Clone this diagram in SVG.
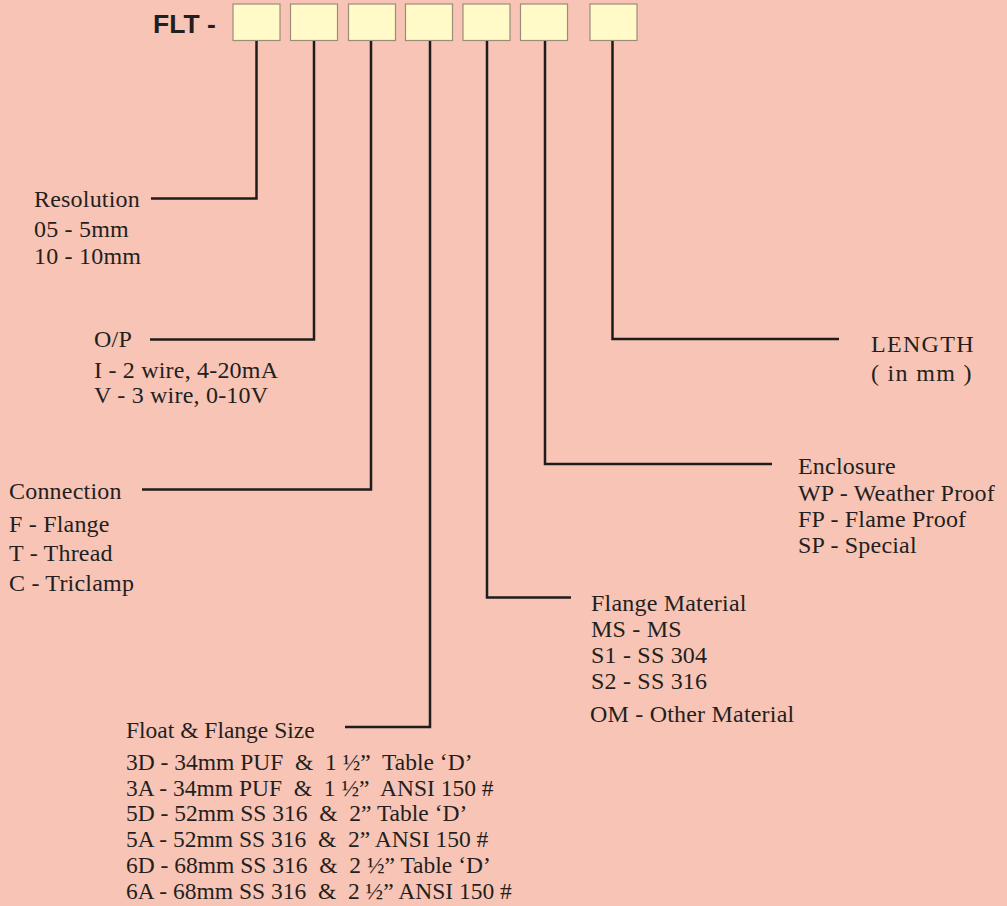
<svg xmlns="http://www.w3.org/2000/svg" width="1007" height="906" viewBox="0 0 1007 906">
<style>
.bg{fill:#F8C4B6}
.box{fill:#FFFAC8;stroke:#9C8C7A;stroke-width:1.2}
.ln{fill:none;stroke:#1F1C1C;stroke-width:2.5;stroke-linejoin:miter}
.t{font-family:"Liberation Serif","Times New Roman",serif;font-size:24px;letter-spacing:0.2px;fill:#231F20;white-space:pre}
.f{font-size:23.5px;letter-spacing:0}
.w{letter-spacing:1.3px}
.h{font-family:"Liberation Sans",Arial,sans-serif;font-size:26.5px;font-weight:bold;fill:#231F20}
</style>
<rect class="bg" x="0" y="0" width="1007" height="906"/>
<g id="header">
<text class="h" x="153" y="32.5">FLT -</text>
<rect class="box" x="233" y="4" width="47" height="36.5"/>
<rect class="box" x="290.5" y="4" width="47" height="36.5"/>
<rect class="box" x="348.5" y="4" width="47" height="36.5"/>
<rect class="box" x="405.5" y="4" width="47" height="36.5"/>
<rect class="box" x="463" y="4" width="47" height="36.5"/>
<rect class="box" x="520.5" y="4" width="47" height="36.5"/>
<rect class="box" x="590" y="4" width="47" height="36.5"/>
</g>
<g id="connectors">
<path class="ln" d="M256.5 41 V198.5 H151"/>
<path class="ln" d="M314 41 V339.5 H150"/>
<path class="ln" d="M371 41 V489.5 H142"/>
<path class="ln" d="M430 41 V727 H345"/>
<path class="ln" d="M487 41 V597.5 H571"/>
<path class="ln" d="M545 41 V464 H772"/>
<path class="ln" d="M612.5 41 V339 H839"/>
</g>
<g id="resolution">
<text class="t" x="34" y="207">Resolution</text>
<text class="t" x="34" y="237">05 - 5mm</text>
<text class="t" x="34" y="264">10 - 10mm</text>
</g>
<g id="op">
<text class="t" x="94" y="347">O/P</text>
<text class="t" x="94" y="378">I - 2 wire, 4-20mA</text>
<text class="t" x="94" y="403">V - 3 wire, 0-10V</text>
</g>
<g id="connection">
<text class="t" x="9" y="499">Connection</text>
<text class="t" x="9" y="532">F - Flange</text>
<text class="t" x="9" y="561">T - Thread</text>
<text class="t" x="9" y="591">C - Triclamp</text>
</g>
<g id="float">
<text class="t f" x="126" y="738">Float &amp; Flange Size</text>
<text class="t f" x="126" y="770" xml:space="preserve">3D - 34mm PUF  &amp;  1 ½”  Table ‘D’</text>
<text class="t f" x="126" y="796" xml:space="preserve">3A - 34mm PUF  &amp;  1 ½”  ANSI 150 #</text>
<text class="t f" x="126" y="821" xml:space="preserve">5D - 52mm SS 316  &amp;  2” Table ‘D’</text>
<text class="t f" x="126" y="847" xml:space="preserve">5A - 52mm SS 316  &amp;  2” ANSI 150 #</text>
<text class="t f" x="126" y="873" xml:space="preserve">6D - 68mm SS 316  &amp;  2 ½” Table ‘D’</text>
<text class="t f" x="126" y="899" xml:space="preserve">6A - 68mm SS 316  &amp;  2 ½” ANSI 150 #</text>
</g>
<g id="flange-material">
<text class="t" x="591" y="611">Flange Material</text>
<text class="t" x="591" y="637">MS - MS</text>
<text class="t" x="591" y="663">S1 - SS 304</text>
<text class="t" x="591" y="689">S2 - SS 316</text>
<text class="t" x="590" y="722">OM - Other Material</text>
</g>
<g id="enclosure">
<text class="t" x="798" y="474">Enclosure</text>
<text class="t" x="798" y="501">WP - Weather Proof</text>
<text class="t" x="798" y="527">FP - Flame Proof</text>
<text class="t" x="798" y="553">SP - Special</text>
</g>
<g id="length">
<text class="t w" x="871" y="352">LENGTH</text>
<text class="t w" x="871" y="381" xml:space="preserve">( in mm )</text>
</g>
</svg>
